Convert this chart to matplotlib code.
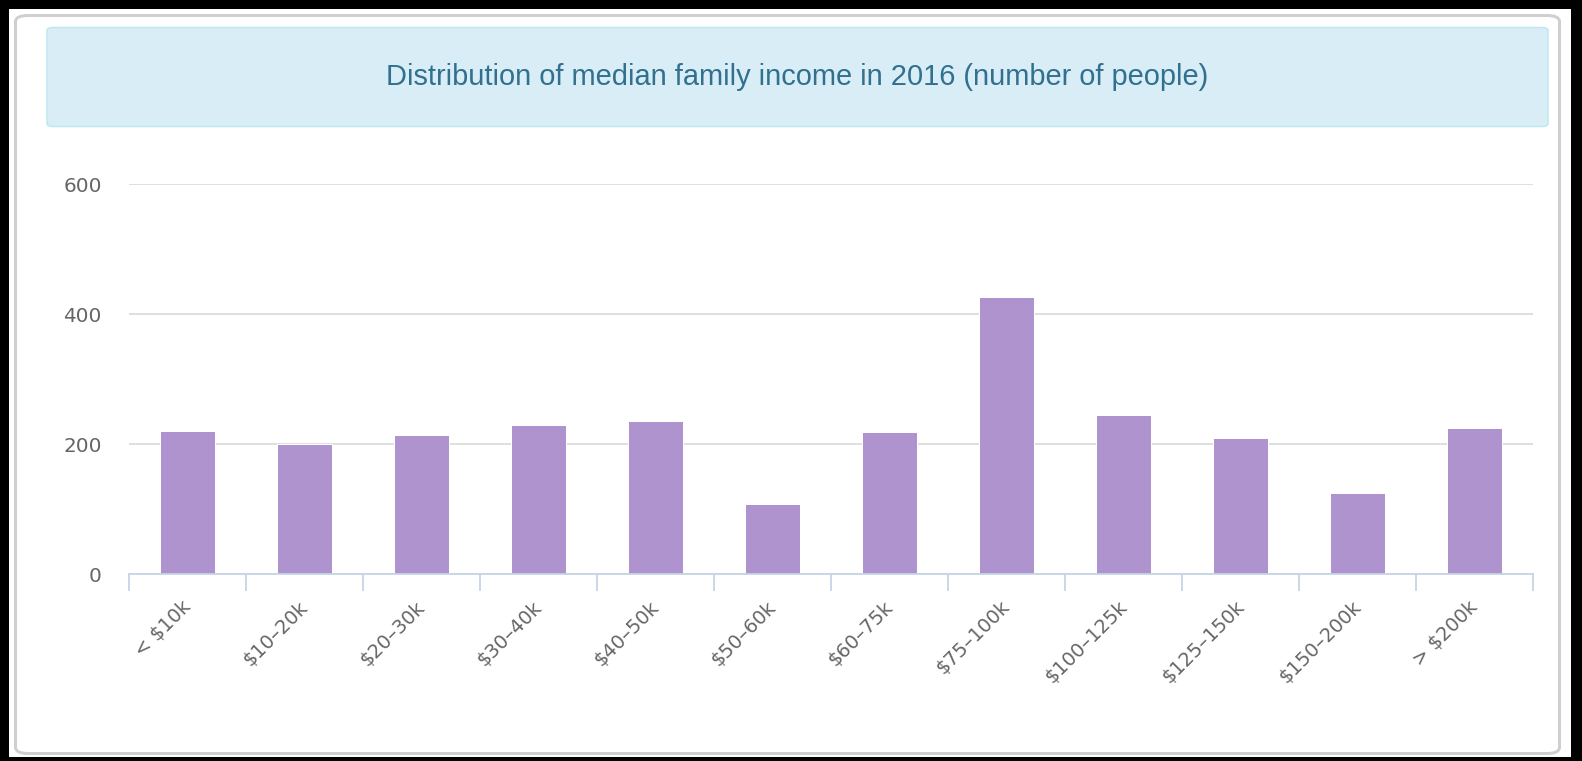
import matplotlib
matplotlib.use("Agg")
import matplotlib.pyplot as plt
from matplotlib.patches import FancyBboxPatch, Rectangle
import matplotlib.transforms as mtrans
import numpy as np

W, H = 1582, 761
DPI = 100

categories = ["< $10k", "$10–20k", "$20–30k", "$30–40k", "$40–50k", "$50–60k",
              "$60–75k", "$75–100k", "$100–125k", "$125–150k", "$150–200k", "> $200k"]
values = [220, 200, 214, 229, 236, 108, 219, 426, 245, 210, 125, 224]
yticks = [0, 200, 400, 600]
title = "Distribution of median family income in 2016 (number of people)"

fig = plt.figure(figsize=(W / DPI, H / DPI), dpi=DPI, facecolor="black")


def fx(x):
    return x / W


def fy(y):
    return 1 - y / H


def PT(px):
    return px * 72.0 / DPI


# white card inside black frame
fig.patches.append(Rectangle((fx(9), fy(757)), fx(1571) - fx(9), fy(9) - fy(757),
                             transform=fig.transFigure, facecolor="white",
                             edgecolor="none", zorder=0))
# grey rounded border
fig.patches.append(FancyBboxPatch((fx(15.5), fy(753.5)), fx(1559.5) - fx(15.5),
                                  fy(15.5) - fy(753.5),
                                  boxstyle="round,pad=0,rounding_size=0.008",
                                  transform=fig.transFigure, facecolor="white",
                                  edgecolor="#cfcfcf", linewidth=PT(3), zorder=1))
# title panel
fig.patches.append(FancyBboxPatch((fx(47), fy(126.5)), fx(1548) - fx(47),
                                  fy(27.5) - fy(126.5),
                                  boxstyle="round,pad=0,rounding_size=0.004",
                                  transform=fig.transFigure, facecolor="#d9edf7",
                                  edgecolor="#bce8f1", linewidth=PT(1.5), zorder=2))
fig.text(fx(797), fy(77), title, ha="center", va="center", color="#31708f",
         fontsize=PT(29), family="Liberation Sans", zorder=3)

left, right, top, bottom = 128.7, 1532.7, 184, 574
ax = fig.add_axes([fx(left), fy(bottom), fx(right) - fx(left), fy(top) - fy(bottom)])
ax.set_zorder(5)
ax.set_facecolor("none")
x = np.arange(len(categories))
ax.bar(x, values, width=0.47, color="#ae93cf", edgecolor="white", linewidth=PT(1), zorder=3)
ax.set_xlim(-0.5, len(categories) - 0.5)
ax.set_ylim(0, 600)
ax.set_yticks(yticks)
ax.set_yticklabels([str(v) for v in yticks])
ax.yaxis.grid(True, color="#dcdcdc", linewidth=PT(1.8), zorder=0)
ax.set_axisbelow(True)
for s in ["top", "right", "left"]:
    ax.spines[s].set_visible(False)
ax.spines["bottom"].set_color("#c5d4e6")
ax.spines["bottom"].set_linewidth(PT(1.8))
ax.spines["bottom"].set_zorder(4)
ax.tick_params(axis="y", length=0, pad=PT(27), labelsize=PT(20), labelcolor="#666666")
for lab in ax.get_yticklabels():
    lab.set_family("DejaVu Sans")

ax.set_xticks(np.arange(len(categories) + 1) - 0.5)
ax.set_xticklabels([])
ax.tick_params(axis="x", which="major", length=PT(17), width=PT(1.8), color="#c5d4e6",
               direction="out")
ax.set_xticks(x, minor=True)
ax.set_xticklabels(categories, minor=True, rotation=45, ha="right",
                   rotation_mode="anchor", va="center")
ax.tick_params(axis="x", which="minor", length=0, pad=PT(30), labelsize=PT(19.5),
               labelcolor="#666666")
offset = mtrans.ScaledTranslation(1 / DPI, 0, fig.dpi_scale_trans)
for lab in ax.get_xticklabels(minor=True):
    lab.set_family("DejaVu Sans")
    lab.set_transform(lab.get_transform() + offset)

fig.savefig("out.png", dpi=DPI, facecolor="black")
